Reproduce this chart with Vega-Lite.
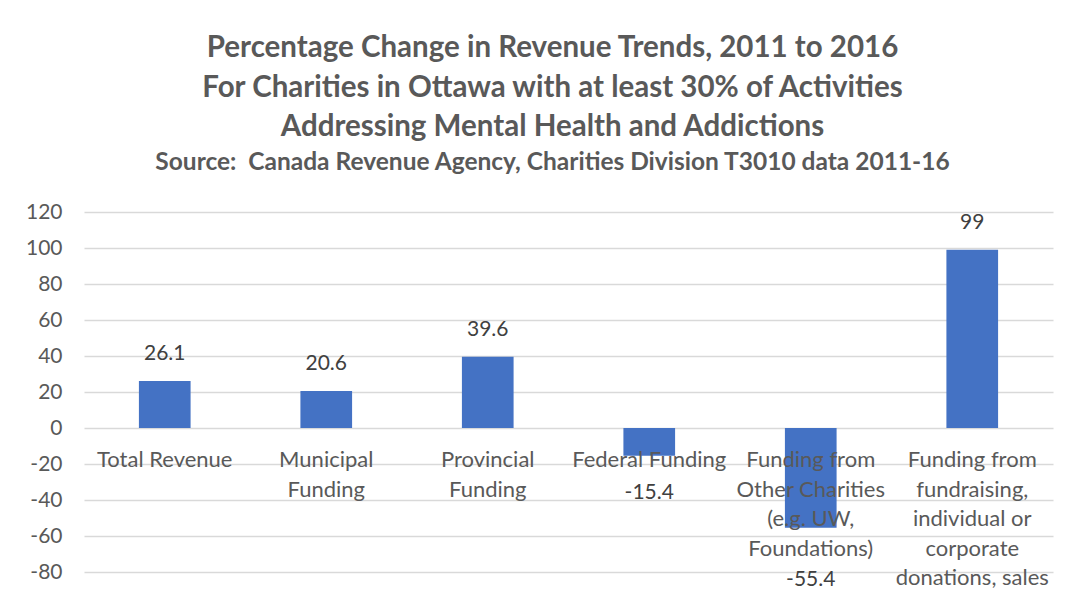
{
  "$schema": "https://vega.github.io/schema/vega-lite/v6.json",
  "width": 969,
  "height": 360,
  "autosize": {"type": "none"},
  "padding": {"left": 84, "top": 212, "right": 36, "bottom": 25},
  "background": "white",
  "config": {
    "view": {"stroke": null},
    "font": "Lato",
    "text": {"font": "Lato"},
    "locale": {"number": {"decimal": ".", "thousands": ",", "grouping": [3], "currency": ["$", ""], "minus": "-"}},
    "axisY": {"title": null, "values": [-80, -60, -40, -20, 0, 20, 40, 60, 80, 100, 120],
              "labelOverlap": false, "format": "d",
              "domain": false, "ticks": false, "grid": true, "gridColor": "#d9d9d9", "gridWidth": 1.3,
              "labelFont": "Lato", "labelFontSize": 21, "labelColor": "#595959", "labelPadding": 22}
  },
  "title": {
    "text": ["Percentage Change in Revenue Trends, 2011 to 2016", "For Charities in Ottawa with at least 30% of Activities", "Addressing Mental Health and Addictions"],
    "subtitle": "Source:\u00a0 Canada Revenue Agency, Charities Division T3010 data 2011-16",
    "anchor": "middle",
    "dx": -16,
    "offset": 26,
    "font": "Lato",
    "fontSize": 29.5,
    "fontWeight": "bold",
    "lineHeight": 39.5,
    "color": "#595959",
    "subtitleFont": "Lato",
    "subtitleFontSize": 24.5,
    "subtitleFontWeight": "bold",
    "subtitleColor": "#595959",
    "subtitlePadding": 8
  },
  "data": {
    "values": [
      {"category": "Total Revenue", "value": 26.1},
      {"category": "Municipal\nFunding", "value": 20.6},
      {"category": "Provincial\nFunding", "value": 39.6},
      {"category": "Federal Funding", "value": -15.4},
      {"category": "Funding from\nOther Charities\n(e.g. UW,\nFoundations)", "value": -55.4},
      {"category": "Funding from\nfundraising,\nindividual or\ncorporate\ndonations, sales", "value": 99}
    ]
  },
  "encoding": {
    "x": {"field": "category", "type": "nominal", "sort": null, "axis": null,
          "scale": {"paddingInner": 0.68, "paddingOuter": 0.34}}
  },
  "layer": [
    {
      "mark": {"type": "bar", "color": "#4472C4"},
      "encoding": {
        "y": {"field": "value", "type": "quantitative",
              "scale": {"domain": [-80, 120], "nice": false, "zero": false},
              "axis": {"values": [-80, -60, -40, -20, 0, 20, 40, 60, 80, 100, 120]}},
        "y2": {"datum": 0}
      }
    },
    {
      "mark": {"type": "text", "baseline": "top", "dy": 22, "fontSize": 22, "lineHeight": 29.5, "color": "#595959", "lineBreak": "\n"},
      "encoding": {
        "y": {"datum": 0, "axis": {"values": [-80, -60, -40, -20, 0, 20, 40, 60, 80, 100, 120]}},
        "text": {"field": "category"}
      }
    },
    {
      "transform": [{"filter": "datum.value >= 0"}],
      "mark": {"type": "text", "baseline": "middle", "dy": -27, "fontSize": 21, "color": "#404040"},
      "encoding": {
        "y": {"field": "value", "type": "quantitative", "axis": {"values": [-80, -60, -40, -20, 0, 20, 40, 60, 80, 100, 120]}},
        "text": {"field": "value", "type": "quantitative", "format": ".10~f"}
      }
    },
    {
      "transform": [{"filter": "datum.value < 0 && datum.value > -30"}],
      "mark": {"type": "text", "baseline": "middle", "dy": 37, "fontSize": 21, "color": "#404040"},
      "encoding": {
        "y": {"field": "value", "type": "quantitative", "axis": {"values": [-80, -60, -40, -20, 0, 20, 40, 60, 80, 100, 120]}},
        "text": {"field": "value", "type": "quantitative", "format": ".10~f"}
      }
    },
    {
      "transform": [{"filter": "datum.value <= -30"}],
      "mark": {"type": "text", "baseline": "middle", "dy": 52, "fontSize": 21, "color": "#404040"},
      "encoding": {
        "y": {"field": "value", "type": "quantitative", "axis": {"values": [-80, -60, -40, -20, 0, 20, 40, 60, 80, 100, 120]}},
        "text": {"field": "value", "type": "quantitative", "format": ".10~f"}
      }
    }
  ]
}
